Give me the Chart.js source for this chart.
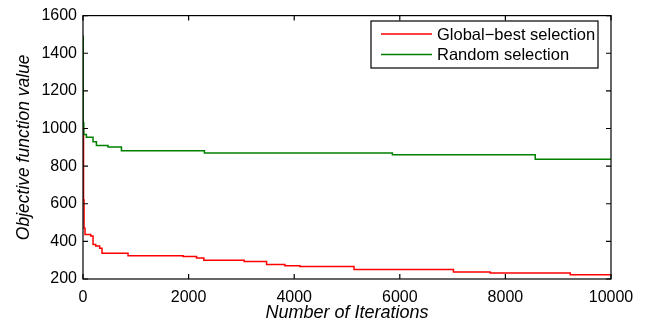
<!DOCTYPE html>
<html>
<head>
<meta charset="utf-8">
<script src="https://cdn.jsdelivr.net/npm/chart.js@4"></script>
<style>
  html, body { margin: 0; padding: 0; background: #fff; }
  #wrap { width: 648px; height: 329px; }
</style>
</head>
<body>
<div id="wrap"><canvas id="myChart" width="648" height="329"></canvas></div>
<script>
// step points: iteration where a new level starts, and that level
var greenIter = [0, 5, 15, 64, 190, 254, 474, 728, 2300, 5860, 8565, 10000];
var greenVal  = [1490, 1030, 968, 954, 930, 910, 902, 882, 870, 860, 837, 837];

var redIter = [0, 10, 20, 38, 146, 190, 241, 316, 360, 853, 1896, 2150, 2289, 3053, 3477, 3824, 4108, 5133, 7016, 7711, 9228, 10000];
var redVal  = [1000, 620, 470, 437, 428, 384, 375, 363, 337, 324, 319, 311, 300, 293, 277, 270, 266, 250, 237, 232, 223, 223];

var xTicks = [0, 2000, 4000, 6000, 8000, 10000];
var yTicks = [200, 400, 600, 800, 1000, 1200, 1400, 1600];

var seriesNames = ["Global\u2212best selection", "Random selection"];
var seriesColors = ['rgb(255, 0, 0)', 'rgb(0, 128, 0)'];

function toPoints(xs, ys) {
    var pts = [];
    for (var i = 0; i < xs.length; i++) pts.push({x: xs[i], y: ys[i]});
    return pts;
}

var FONT = '"Liberation Sans", Arial, Helvetica, sans-serif';

// box round the plot, inward ticks on all four sides, legend inside
var matlabBox = {
    id: 'matlabBox',
    afterDatasetsDraw: function(chart) {
        var c = chart.ctx, a = chart.chartArea;
        var xs = chart.scales.x, ys = chart.scales.y;
        var L = 5;
        c.save();
        c.strokeStyle = '#000';
        c.lineWidth = 1.2;
        c.strokeRect(a.left, a.top, a.right - a.left, a.bottom - a.top);
        c.beginPath();
        xTicks.forEach(function(v) {
            var px = xs.getPixelForValue(v);
            c.moveTo(px, a.bottom); c.lineTo(px, a.bottom - L);
            c.moveTo(px, a.top); c.lineTo(px, a.top + L);
        });
        yTicks.forEach(function(v) {
            var py = ys.getPixelForValue(v);
            c.moveTo(a.left, py); c.lineTo(a.left + L, py);
            c.moveTo(a.right, py); c.lineTo(a.right - L, py);
        });
        c.stroke();

        // legend
        var bx = 371, by = 21, bw = 227, bh = 47;
        c.fillStyle = '#fff';
        c.fillRect(bx, by, bw, bh);
        c.lineWidth = 1.2;
        c.strokeRect(bx, by, bw, bh);
        c.font = '16.5px ' + FONT;
        c.textBaseline = 'middle';
        var rows = [34, 54.5];
        for (var i = 0; i < 2; i++) {
            c.strokeStyle = seriesColors[i];
            c.lineWidth = 1.5;
            c.beginPath();
            c.moveTo(381, rows[i]); c.lineTo(432, rows[i]);
            c.stroke();
            c.fillStyle = '#000';
            c.fillText(seriesNames[i], 437, rows[i] + 1);
        }
        c.restore();
    }
};

var ctx = document.getElementById('myChart').getContext('2d');

var chart = new Chart(ctx, {
    type: 'line',
    data: {
        datasets: [{
            label: seriesNames[0],
            data: toPoints(redIter, redVal),
            borderColor: seriesColors[0],
            backgroundColor: seriesColors[0],
            borderWidth: 1.5,
            pointRadius: 0,
            stepped: 'before',
            fill: false,
            order: 2
        },
        {
            label: seriesNames[1],
            data: toPoints(greenIter, greenVal),
            borderColor: seriesColors[1],
            backgroundColor: seriesColors[1],
            borderWidth: 1.5,
            pointRadius: 0,
            stepped: 'before',
            fill: false,
            order: 1
        }]
    },
    options: {
        responsive: false,
        animation: false,
        layout: { padding: { top: 13, right: 37, left: 0, bottom: 0 } },
        plugins: {
            legend: { display: false },
            tooltip: { enabled: false }
        },
        scales: {
            x: {
                type: 'linear',
                min: 0, max: 10000,
                afterBuildTicks: function(s) { s.ticks = xTicks.map(function(v) { return {value: v}; }); },
                afterFit: function(s) { s.height = 50; },
                grid: { display: false, drawTicks: false },
                border: { display: false },
                ticks: {
                    color: '#000', font: { family: FONT, size: 16 }, padding: 9, maxRotation: 0,
                    callback: function(v) { return String(v); }
                },
                title: {
                    display: true, text: 'Number of Iterations', color: '#000',
                    font: { family: FONT, size: 18, style: 'italic' },
                    padding: { top: 0, bottom: 5 }
                }
            },
            y: {
                type: 'linear',
                min: 200, max: 1600,
                afterBuildTicks: function(s) { s.ticks = yTicks.map(function(v) { return {value: v}; }); },
                afterFit: function(s) { s.width = 83; },
                grid: { display: false, drawTicks: false },
                border: { display: false },
                ticks: {
                    color: '#000', font: { family: FONT, size: 16 }, padding: 6,
                    callback: function(v) { return String(v); }
                },
                title: {
                    display: true, text: 'Objective function value', color: '#000',
                    font: { family: FONT, size: 17.5, style: 'italic' },
                    padding: { top: 14, bottom: 0 }
                }
            }
        }
    },
    plugins: [matlabBox]
});
</script>
</body>
</html>
